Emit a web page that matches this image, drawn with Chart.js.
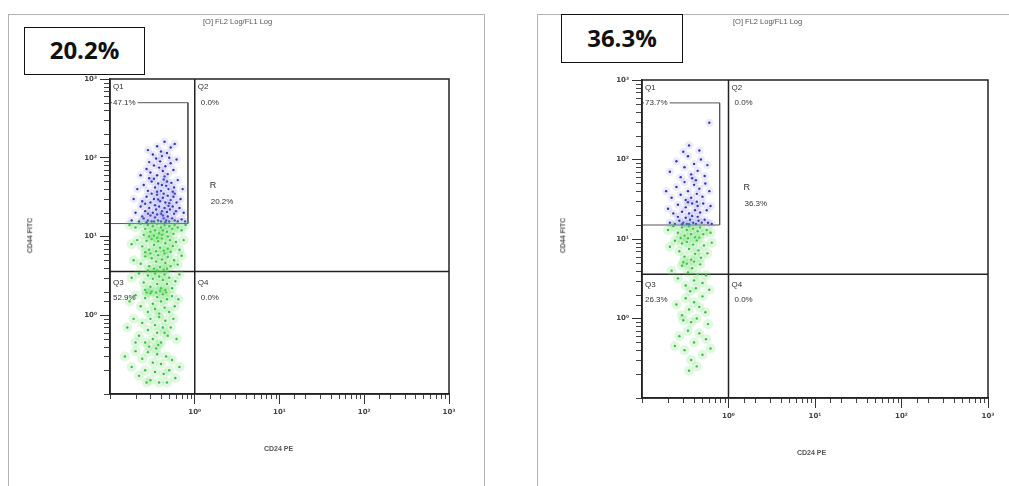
<!DOCTYPE html>
<html>
<head>
<meta charset="utf-8">
<script src="https://cdn.jsdelivr.net/npm/chart.js@4.4.1/dist/chart.umd.min.js"></script>
<style>
  body { margin: 0; width: 1009px; height: 486px; background: #fff; position: relative; overflow: hidden; }
  .frame { position: absolute; border: 1px solid #b4b4b4; border-bottom: none; }
  canvas { position: absolute; top: 0; }
  .tag { position: absolute; border: 1.5px solid #111; background: #fff; box-sizing: border-box;
         font: bold 24px "Open Sans", "Liberation Sans", sans-serif; color: #111; text-align: center; }
  .hdr { position: absolute; font: 7.5px "Liberation Sans", sans-serif; color: #555; white-space: nowrap; }
  .ytitle { position: absolute; font: bold 7px "Liberation Sans", sans-serif; color: #555;
            transform: rotate(-90deg); transform-origin: center; white-space: nowrap; }
  .xtitle { position: absolute; font: bold 7px "Liberation Sans", sans-serif; color: #555; white-space: nowrap; }
</style>
</head>
<body>
<div class="frame" style="left:8px;top:14px;width:475px;height:480px"></div>
<div class="frame" style="left:537px;top:14px;width:480px;height:480px;border-right:none"></div>

<canvas id="plotA" width="500" height="486" style="left:0"></canvas>
<canvas id="plotB" width="489" height="486" style="left:520px"></canvas>

<div class="hdr" style="left:203px;top:17px">[O] FL2 Log/FL1 Log</div>
<div class="hdr" style="left:733px;top:17px">[O] FL2 Log/FL1 Log</div>
<div class="tag" id="tagA" style="left:24px;top:27px;width:121px;height:48px;line-height:44px"></div>
<div class="tag" id="tagB" style="left:561px;top:14px;width:122px;height:49px;line-height:46px"></div>
<div class="ytitle" style="left:12px;top:232px">CD44 FITC</div>
<div class="ytitle" style="left:545px;top:232px">CD44 FITC</div>
<div class="xtitle" style="left:264px;top:445px">CD24 PE</div>
<div class="xtitle" style="left:797px;top:449px">CD24 PE</div>

<script>
// axis range (both axes log, CD24 PE on x, CD44 FITC on y)
const axisMin = 0.1;
const axisMax = 1000;
const quadX = 1;
const quadY = 3.6;

// sample A: region R and quadrant stats
const regionA = '20.2%';
const quadStatsA = ['47.1%', '0.0%', '52.9%', '0.0%'];
const gateAX = [0.1, 0.83];
const gateAY = [14.6, 500];

// sample B
const regionB = '36.3%';
const quadStatsB = ['73.7%', '0.0%', '26.3%', '0.0%'];
const gateBX = [0.1, 0.79];
const gateBY = [15, 515];

// events inside gate R (CD44 high), sample A
const gatedA = [[.18,16],[.22,15.5],[.25,17],[.28,16],[.31,15.5],[.34,17.5],[.37,16],[.40,15.5],[.43,17],[.46,16],[.50,15.5],[.54,17],[.58,16],[.63,15.5],[.70,16.5],[.77,15.5],[.24,18],[.30,18.5],[.36,19],[.42,18.5],[.48,18],[.33,15.5],[.45,15.2],[.27,15.2],
  [.20,20],[.26,21],[.29,23],[.32,20],[.35,22],[.38,24],[.41,21],[.44,23],[.47,20.5],[.51,22],[.55,24],[.60,21],[.66,23],[.74,20],[.23,24],[.34,25],[.40,19.5],[.49,24.5],[.28,19.5],[.57,19.5],
  [.19,30],[.24,28],[.27,32],[.30,27],[.33,30],[.36,34],[.39,28],[.42,31],[.45,27],[.48,33],[.52,29],[.56,32],[.61,27],[.68,30],[.31,35],[.43,35],[.26,26],[.50,26.5],[.37,29.5],[.58,35],
  [.21,40],[.25,45],[.28,38],[.31,50],[.34,42],[.37,47],[.40,38],[.43,53],[.46,44],[.49,40],[.53,48],[.57,42],[.63,52],[.29,55],[.36,37],[.41,45],[.47,50],[.33,54],[.55,37],[.72,40],
  [.23,60],[.27,72],[.30,65],[.33,80],[.36,60],[.39,90],[.42,68],[.45,78],[.48,62],[.52,85],[.56,70],[.61,95],[.35,98],[.44,58],[.29,88],[.50,100],[.38,75],
  [.32,110],[.40,120],[.47,115],[.36,140],[.52,135],[.28,125],[.44,160],[.58,150],[.41,105]];

// remaining events, sample A
const restA = [[.17,14],[.20,13],[.23,14.5],[.26,12.5],[.28,14],[.30,11.5],[.32,13.5],[.34,12],[.36,14.5],[.38,11],[.40,13],[.42,12],[.44,14],[.47,11.5],[.50,13.5],[.54,12.5],[.58,14],[.63,13],[.70,12],[.78,14],[.25,10.5],[.33,10.2],[.41,10.5],[.48,10],[.56,10.8],[.29,10],
  [.18,8],[.21,9],[.24,7.5],[.27,8.8],[.29,6.8],[.31,9.3],[.33,7.8],[.35,6.5],[.37,8.7],[.39,7.2],[.41,9.4],[.43,6.6],[.45,8.2],[.48,7],[.51,9],[.55,7.6],[.60,8.5],[.66,6.8],[.74,9],[.30,6.1],[.36,9.6],[.44,6.1],[.52,6.4],[.26,6.3],
  [.19,5],[.23,4.5],[.26,5.6],[.29,4.2],[.31,5.3],[.33,3.9],[.35,4.8],[.37,5.8],[.39,4.1],[.41,5.1],[.43,3.8],[.45,4.6],[.48,5.5],[.52,4.2],[.57,5],[.63,4.4],[.70,5.7],[.28,3.7],[.36,3.7],[.47,3.9],
  [.18,3],[.22,3.4],[.25,2.6],[.28,3.2],[.30,2.3],[.32,2.9],[.34,3.4],[.36,2.5],[.38,3.1],[.40,2.2],[.42,2.8],[.44,3.3],[.47,2.5],[.50,3],[.54,2.2],[.59,2.7],[.66,3.3],[.31,2],[.39,2.05],[.45,2.1],[.26,2.1],
  [.17,1.5],[.20,1.8],[.23,1.3],[.26,1.65],[.28,1.1],[.30,1.9],[.32,1.4],[.34,1.2],[.36,1.7],[.38,1.05],[.40,1.5],[.42,1.85],[.44,1.25],[.47,1.6],[.50,1.1],[.54,1.75],[.58,1.3],[.64,1.6],[.27,1.95],[.35,1.95],[.46,1.95],
  [.16,.7],[.19,.9],[.22,.55],[.24,.8],[.26,.45],[.28,.65],[.30,.9],[.32,.5],[.34,.75],[.36,.6],[.38,.95],[.40,.45],[.42,.7],[.45,.85],[.48,.55],[.52,.7],[.56,.9],[.61,.5],[.29,.4],[.37,.42],[.44,.6],[.20,.45],
  [.15,.3],[.18,.22],[.20,.35],[.22,.17],[.24,.28],[.26,.2],[.28,.34],[.30,.15],[.32,.25],[.34,.19],[.36,.32],[.38,.14],[.40,.24],[.43,.18],[.46,.3],[.50,.2],[.54,.27],[.59,.16],[.66,.22],[.27,.14],[.35,.38],[.47,.14]];

// events inside gate R, sample B
const gatedB = [[.21,16],[.24,15.5],[.27,17],[.30,16],[.33,15.5],[.36,17.5],[.39,16],[.42,15.5],[.45,17],[.49,16],[.53,17.5],[.58,16],[.64,15.5],[.26,19],[.32,18.5],[.38,19.5],[.44,19],[.29,15.3],[.35,15.3],
  [.20,24],[.23,21],[.26,27],[.29,22],[.32,25],[.35,21],[.38,28],[.41,23],[.44,26],[.47,21.5],[.51,28],[.56,23],[.62,26],[.34,29],[.43,29.5],
  [.19,40],[.22,33],[.25,45],[.28,36],[.31,52],[.34,40],[.37,33],[.40,48],[.43,37],[.46,43],[.50,34],[.54,50],[.60,40],[.32,31],[.42,55],
  [.21,70],[.25,95],[.28,60],[.31,80],[.34,110],[.37,65],[.40,88],[.44,72],[.48,100],[.53,62],[.57,85],[.30,125],[.46,130],[.38,58],
  [.60,290],[.35,150]];

// remaining events, sample B
const restB = [[.20,13],[.23,14.5],[.26,12],[.29,14],[.31,11],[.33,13],[.35,14.5],[.37,11.5],[.39,13.5],[.41,10.5],[.44,12.5],[.47,14],[.51,11.5],[.56,13],[.62,12],[.28,10.3],[.34,10.2],[.46,10.4],
  [.21,8],[.24,9.5],[.27,7],[.29,8.8],[.31,6],[.33,9.2],[.35,7.5],[.37,5.5],[.39,8.5],[.41,6.5],[.43,9.6],[.45,7.2],[.48,5.8],[.52,8.3],[.57,6.6],[.64,9],[.30,5.1],[.40,5.2],
  [.22,4],[.26,3.2],[.29,4.6],[.32,2.6],[.34,3.8],[.36,2.2],[.38,4.3],[.40,3],[.42,2.4],[.44,3.6],[.47,4.8],[.50,2.8],[.55,3.5],[.60,2.3],[.33,4.9],
  [.25,1.5],[.29,1.1],[.32,1.8],[.35,1.3],[.37,.9],[.40,1.6],[.43,1.0],[.46,1.4],[.50,1.9],[.54,1.2],[.58,.85],[.30,.95],
  [.27,.6],[.31,.4],[.34,.7],[.37,.3],[.40,.5],[.43,.25],[.46,.65],[.50,.35],[.55,.55],[.62,.42],[.35,.22],[.24,.45]];

const sup = { 0: '\u2070', 1: '\u00b9', 2: '\u00b2', 3: '\u00b3' };

function isDecade(v) {
  const e = Math.log10(v);
  return Math.abs(e - Math.round(e)) < 1e-6;
}

function toPts(arr) {
  return arr.map(p => ({ x: p[0], y: p[1] }));
}

function logAxis(isY) {
  return {
    type: 'logarithmic',
    min: axisMin,
    max: axisMax,
    grid: {
      drawOnChartArea: false,
      drawTicks: true,
      tickLength: 10,
      tickWidth: 1,
      tickColor: c => (c.tick && isDecade(c.tick.value) && c.tick.value >= 1) ? '#333' : 'rgba(0,0,0,0)'
    },
    border: { display: true, color: '#222', width: 1.5 },
    ticks: {
      autoSkip: false,
      maxRotation: 0,
      padding: isY ? 3 : 4,
      color: '#444',
      font: { family: '"DejaVu Sans", "Liberation Sans"', size: 7, weight: 'bold' },
      callback: v => (isDecade(v) && v >= 1) ? '10' + sup[Math.round(Math.log10(v))] : ''
    },
    afterFit: s => { if (isY) s.width = 50; else s.height = 30; }
  };
}

// short minor ticks, plot frame and the quadrant/gate captions
const plotDecor = {
  id: 'plotDecor',
  afterDraw(chart, args, o) {
    const { ctx, chartArea: a, scales: { x, y } } = chart;
    ctx.save();
    ctx.strokeStyle = '#444';
    ctx.lineWidth = 1;
    x.ticks.forEach(t => {
      if (isDecade(t.value) && t.value >= 1) return;
      const px = Math.round(x.getPixelForValue(t.value)) + 0.5;
      ctx.beginPath(); ctx.moveTo(px, a.bottom); ctx.lineTo(px, a.bottom + 5); ctx.stroke();
    });
    y.ticks.forEach(t => {
      if (isDecade(t.value) && t.value >= 1) return;
      const py = Math.round(y.getPixelForValue(t.value)) + 0.5;
      ctx.beginPath(); ctx.moveTo(a.left - 6, py); ctx.lineTo(a.left, py); ctx.stroke();
    });
    ctx.strokeStyle = '#222';
    ctx.lineWidth = 1.5;
    ctx.strokeRect(a.left, a.top, a.right - a.left, a.bottom - a.top);

    const qx = x.getPixelForValue(quadX);
    const qy = y.getPixelForValue(quadY);
    const gy = y.getPixelForValue(o.gateTop);
    ctx.font = '8px "Liberation Sans", sans-serif';
    ctx.textBaseline = 'middle';
    ctx.fillStyle = '#333';
    ctx.fillText('Q1', a.left + 3, a.top + 8);
    ctx.fillText('Q2', qx + 3, a.top + 8);
    ctx.fillText('Q3', a.left + 3, qy + 11);
    ctx.fillText('Q4', qx + 3, qy + 11);
    const w = ctx.measureText(o.stats[0]).width;
    ctx.fillStyle = '#fff';
    ctx.fillRect(a.left + 2, gy - 4, w + 3, 8);
    ctx.fillStyle = '#333';
    ctx.fillText(o.stats[0], a.left + 3, gy);
    ctx.fillText(o.stats[1], qx + 6, gy);
    ctx.fillText(o.stats[2], a.left + 3, qy + 26);
    ctx.fillText(o.stats[3], qx + 6, qy + 26);
    const ry = y.getPixelForValue(o.regionAt);
    ctx.font = '9px "Liberation Sans", sans-serif';
    ctx.fillText('R', qx + 15, ry - 8);
    ctx.font = '8px "Liberation Sans", sans-serif';
    ctx.fillText(o.region, qx + 16, ry + 8);
    ctx.restore();
  }
};

function makePlot(id, gated, rest, gateX, gateY, stats, region, pad) {
  const line = (pts, w, col) => ({
    type: 'line', data: pts, showLine: true, borderColor: col, borderWidth: w,
    pointRadius: 0, fill: false, tension: 0
  });
  new Chart(document.getElementById(id).getContext('2d'), {
    type: 'scatter',
    data: {
      datasets: [
        // soft density haze under the dots
        { data: toPts(rest), pointRadius: 5, pointBorderWidth: 0, backgroundColor: 'rgba(100,220,100,0.2)' },
        { data: toPts(gated), pointRadius: 4, pointBorderWidth: 0, backgroundColor: 'rgba(120,120,230,0.15)' },
        { data: toPts(rest), pointRadius: 1.2, pointBorderWidth: 0, backgroundColor: '#2db83a' },
        { data: toPts(gated), pointRadius: 1.2, pointBorderWidth: 0, backgroundColor: '#2a2aac' },
        line([{ x: quadX, y: axisMin }, { x: quadX, y: axisMax }], 1.5, '#222'),
        line([{ x: axisMin, y: quadY }, { x: axisMax, y: quadY }], 1.5, '#222'),
        line([{ x: gateX[0], y: gateY[1] }, { x: gateX[1], y: gateY[1] }, { x: gateX[1], y: gateY[0] }, { x: gateX[0], y: gateY[0] }], 1, '#555')
      ]
    },
    options: {
      responsive: false,
      animation: false,
      events: [],
      layout: { padding: pad },
      plugins: {
        legend: { display: false },
        tooltip: { enabled: false },
        plotDecor: { stats: stats, region: region, gateTop: gateY[1], regionAt: 35 }
      },
      scales: { x: logAxis(false), y: logAxis(true) }
    },
    plugins: [plotDecor]
  });
}

document.getElementById('tagA').textContent = regionA;
document.getElementById('tagB').textContent = regionB;

makePlot('plotA', gatedA, restA, gateAX, gateAY, quadStatsA, regionA, { left: 60, top: 79, right: 51, bottom: 62 });
makePlot('plotB', gatedB, restB, gateBX, gateBY, quadStatsB, regionB, { left: 72, top: 80, right: 21, bottom: 58 });
</script>
</body>
</html>
